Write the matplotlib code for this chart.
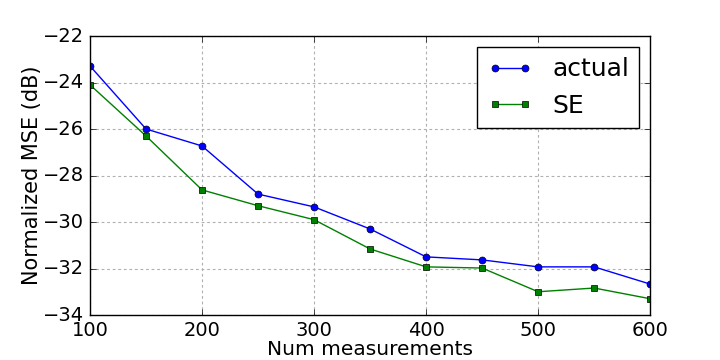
import matplotlib
matplotlib.use("Agg")
from matplotlib import pyplot as plt

plt.style.use('classic')

num_meas = [100, 150, 200, 250, 300, 350, 400, 450, 500, 550, 600]
actual = [-23.29, -26.0, -26.73, -28.8, -29.35, -30.3, -31.5, -31.63, -31.93, -31.93, -32.67]
se = [-24.1, -26.3, -28.62, -29.3, -29.9, -31.16, -31.93, -31.98, -33.0, -32.84, -33.3]

fig = plt.figure(figsize=(7.2, 3.6), dpi=100)
fig.patch.set_facecolor('white')
ax = fig.add_axes([0.125, 0.125, 0.778, 0.775])
ax.plot(num_meas, actual, marker='o', linestyle='-', color='b', markersize=5, label='actual')
ax.plot(num_meas, se, marker='s', linestyle='-', color='g', markersize=5, label='SE')
ax.set_xlim(100, 600)
ax.set_ylim(-34, -22)
ax.set_axisbelow(True)
ax.grid(True, color='#b0b0b0', linestyle=(0, (2, 2)), linewidth=0.8)
ax.tick_params(labelsize=14)
ax.tick_params(axis='x', pad=4)
ax.set_xlabel('Num measurements', fontsize=14.5, labelpad=0)
ax.set_ylabel('Normalized MSE (dB)', fontsize=15, labelpad=1)
ax.legend(loc='upper right', fontsize=18, numpoints=2, borderaxespad=0.45, handlelength=1.8)
fig.savefig('out.png', dpi=100, facecolor='white')
